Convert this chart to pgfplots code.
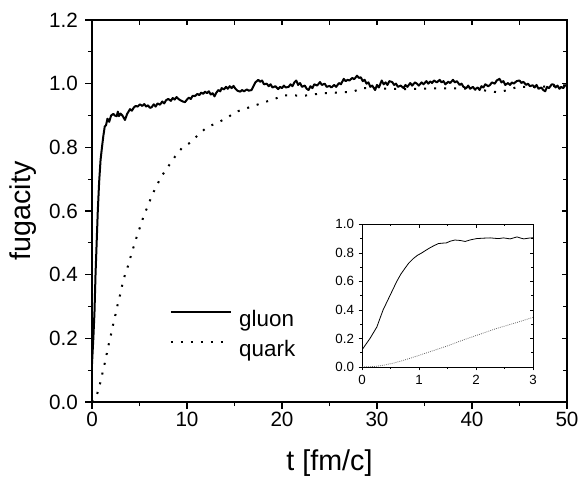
\documentclass[border=0pt]{standalone}
\usepackage{pgfplots}
\pgfplotsset{compat=1.18}
\usepackage{fontspec}
\setmainfont{Liberation Sans}

\pgfplotstableread{
t f
0.00 0.120
0.14 0.200
0.26 0.280
0.37 0.400
0.49 0.500
0.61 0.600
0.75 0.690
0.90 0.760
1.05 0.800
1.19 0.835
1.34 0.865
1.48 0.870
1.63 0.890
1.81 0.880
2.01 0.900
2.25 0.905
2.40 0.900
2.60 0.898
2.72 0.912
2.84 0.898
3.0 0.906
3.2 0.900
3.47 0.886
3.7 0.905
4.0 0.920
4.2 0.915
4.4 0.925
4.6 0.930
4.8 0.928
5.05 0.935
5.3 0.930
5.5 0.936
5.7 0.928
5.9 0.932
6.1 0.924
6.28 0.926
6.5 0.935
6.7 0.928
6.9 0.938
7.16 0.934
7.4 0.944
7.6 0.938
7.8 0.948
8.03 0.952
8.3 0.946
8.5 0.955
8.7 0.950
8.9 0.958
9.1 0.952
9.3 0.948
9.55 0.944
9.79 0.942
10.0 0.950
10.2 0.956
10.4 0.952
10.6 0.962
10.84 0.961
11.1 0.968
11.3 0.964
11.5 0.972
11.7 0.968
11.9 0.975
12.1 0.970
12.3 0.976
12.5 0.966
12.7 0.970
12.9 0.960
13.1 0.972
13.3 0.980
13.5 0.976
13.65 0.986
13.9 0.982
14.1 0.990
14.3 0.984
14.5 0.992
14.7 0.986
14.9 0.993
15.1 0.984
15.3 0.978
15.6 0.975
15.8 0.980
16.0 0.976
16.3 0.982
16.5 0.978
16.8 0.980
17.0 0.992
17.2 1.004
17.5 1.012
17.7 1.006
17.9 1.010
18.1 0.998
18.4 1.000
18.6 0.992
18.8 0.998
19.0 0.988
19.3 0.992
19.6 0.983
19.8 0.990
20.0 0.986
20.2 0.994
20.4 0.988
20.7 0.990
20.9 0.998
21.1 0.992
21.3 1.004
21.5 1.010
21.7 0.996
21.9 1.002
22.1 0.990
22.4 0.994
22.6 0.984
22.8 0.980
23.0 0.992
23.2 0.986
23.4 0.998
23.7 0.994
24.0 1.005
24.2 0.996
24.5 1.000
24.7 0.990
25.0 0.993
25.2 0.988
25.5 0.996
25.7 0.990
26.0 1.002
26.2 0.998
26.5 1.015
26.7 1.008
26.9 1.012
27.1 1.010
27.4 1.018
27.6 1.014
27.9 1.025
28.1 1.018
28.3 1.020
28.5 1.008
28.7 1.012
28.9 1.000
29.1 1.004
29.3 0.990
29.5 0.994
29.8 0.980
30.0 0.996
30.2 0.988
30.5 1.010
30.7 0.998
30.9 1.004
31.1 0.996
31.3 1.008
31.6 1.005
31.8 0.996
32.0 1.000
32.2 0.990
32.5 0.994
32.8 0.986
33.0 0.996
33.2 0.990
33.5 1.002
33.7 0.994
34.0 1.004
34.2 1.000
34.4 0.994
34.7 1.004
34.9 0.998
35.2 1.008
35.4 1.000
35.6 1.007
35.8 1.002
36.0 1.010
36.3 1.004
36.6 1.012
36.8 1.004
37.0 1.008
37.2 0.998
37.5 1.006
37.7 1.002
38.0 1.012
38.2 1.004
38.4 1.008
38.7 0.996
38.9 1.000
39.1 0.990
39.4 0.986
39.6 0.994
39.8 0.984
40.1 0.990
40.3 0.982
40.6 0.988
40.8 0.980
41.0 0.992
41.2 0.988
41.4 0.998
41.7 0.992
41.9 0.996
42.1 1.004
42.4 1.000
42.6 1.010
42.9 1.015
43.1 1.004
43.3 1.008
43.5 0.996
43.8 1.002
44.0 0.996
44.2 1.004
44.4 1.000
44.7 1.008
45.0 1.010
45.2 1.002
45.4 1.006
45.7 0.996
45.9 1.000
46.1 0.992
46.4 0.995
46.6 0.988
46.8 0.996
47.0 0.984
47.3 0.988
47.5 0.980
47.7 0.976
47.9 0.990
48.1 0.986
48.4 0.998
48.6 0.997
48.8 0.988
49.0 0.994
49.2 0.984
49.4 0.990
49.6 0.986
49.8 0.994
50.0 0.996
}\gluon

\pgfplotstableread{
t f
0.00 0.000
0.20 0.003
0.37 0.012
0.56 0.027
0.84 0.057
1.08 0.088
1.33 0.120
1.54 0.150
1.75 0.180
2.00 0.212
2.24 0.245
2.49 0.277
2.70 0.306
2.95 0.336
3.19 0.368
3.47 0.400
3.82 0.430
4.10 0.460
4.45 0.494
4.77 0.525
5.12 0.555
5.47 0.587
5.90 0.617
6.28 0.647
6.80 0.679
7.34 0.710
8.03 0.740
8.74 0.771
9.44 0.797
10.4 0.816
11.2 0.840
12.1 0.863
13.1 0.876
14.2 0.892
15.1 0.911
16.2 0.922
17.2 0.932
18.3 0.943
19.3 0.953
20.2 0.963
21.3 0.963
22.3 0.962
23.5 0.967
24.5 0.970
26.0 0.972
27.5 0.975
28.4 0.986
30.0 0.985
33.0 0.983
36.0 0.985
39.0 0.985
41.0 0.980
42.7 0.973
43.8 0.980
44.8 0.990
47.0 0.990
50.0 0.995
}\quark

\pgfplotstableread{
t f
0.00 0.120
0.07 0.160
0.14 0.200
0.20 0.240
0.26 0.280
0.31 0.335
0.37 0.400
0.43 0.450
0.49 0.500
0.55 0.550
0.61 0.600
0.68 0.650
0.75 0.690
0.82 0.728
0.90 0.760
0.97 0.782
1.05 0.800
1.12 0.818
1.19 0.835
1.27 0.852
1.34 0.865
1.41 0.868
1.48 0.870
1.55 0.882
1.63 0.890
1.72 0.887
1.81 0.880
1.91 0.892
2.01 0.900
2.13 0.903
2.25 0.905
2.33 0.902
2.40 0.900
2.48 0.905
2.60 0.898
2.66 0.905
2.72 0.912
2.78 0.904
2.84 0.898
2.92 0.903
3.00 0.906
}\gluoninset

\pgfplotstableread{
t f
0.00 0.000
0.20 0.003
0.37 0.012
0.55 0.027
0.73 0.047
0.95 0.075
1.19 0.107
1.50 0.148
1.78 0.190
2.07 0.230
2.36 0.270
2.70 0.310
3.00 0.348
}\quarkinset

\begin{document}
\begin{tikzpicture}
% overlay for top/right inward ticks (main)
\begin{axis}[
  at={(0,0)}, anchor=south west,
  width=356.25pt, height=286.5pt, scale only axis,
  xmin=0, xmax=50, ymin=0, ymax=1.2,
  xtick={0,5,...,50}, ytick={0,0.2,0.4,0.6,0.8,1.0,1.2}, minor y tick num=1,
  xtick pos=right, ytick pos=right, tick align=inside,
  major tick length=4pt, minor tick length=3pt,
  xticklabels={}, yticklabels={},
  axis line style={line width=1pt},
  every tick/.style={line width=0.9pt, black},
]
\end{axis}
\begin{axis}[
  at={(0,0)}, anchor=south west,
  width=356.25pt, height=286.5pt, scale only axis,
  xmin=0, xmax=50, ymin=0, ymax=1.2,
  xtick={0,10,...,50}, ytick={0,0.2,0.4,0.6,0.8,1.0,1.2},
  minor x tick num=1, minor y tick num=1,
  xtick pos=left, ytick pos=left, tick align=outside,
  major tick length=5pt, minor tick length=3pt,
  axis line style={line width=1pt},
  every tick/.style={line width=0.9pt, black},
  /pgf/number format/assume math mode=true,
  tick label style={font=\fontsize{15.5}{17}\selectfont},
  xticklabel style={yshift=1pt},
  yticklabel style={xshift=-2pt, /pgf/number format/.cd, fixed, fixed zerofill, precision=1, /tikz/.cd},
  xlabel={t [fm/c]}, ylabel={fugacity},
  label style={font=\fontsize{21.5}{25}\selectfont},
  xlabel style={at={(axis description cs:0.5,0)}, anchor=base, yshift=-51pt},
  ylabel style={at={(axis description cs:-0.145,0.5)}, anchor=center},
  legend style={at={(axis description cs:0.164,0.174)}, anchor=west,
    draw=none, fill=none, inner sep=0pt, outer sep=0pt,
    font=\fontsize{16.8}{19}\selectfont, row sep=7pt,
    nodes={inner sep=0pt, text height=12pt, text depth=3.5pt},
    /tikz/every odd column/.append style={column sep=5.5pt}},
  legend cell align=left,
  legend image code/.code={\draw[#1] (0pt,6.5pt) -- (45pt,6.5pt);},
]
\addplot[black, line width=1.5pt, line join=round] table[x=t, y=f] {\gluon};
\addlegendentry{gluon}
\addplot[black, line width=1.5pt, dash pattern=on 1.5pt off 6pt] table[x=t, y=f] {\quark};
\addlegendentry{quark}
\end{axis}
% inset overlay for top/right inward ticks
\begin{axis}[
  at={(202.5pt,26.25pt)}, anchor=south west,
  width=128.25pt, height=107pt, scale only axis,
  xmin=0, xmax=3, ymin=0, ymax=1,
  xtick={0,1,2,3}, minor x tick num=1,
  ytick={0,0.2,0.4,0.6,0.8,1.0}, minor y tick num=1,
  xtick pos=right, ytick pos=right, tick align=inside,
  major tick length=2.5pt, minor tick length=1.5pt,
  xticklabels={}, yticklabels={},
  axis line style={line width=0.6pt},
  every tick/.style={line width=0.5pt, black},
]
\end{axis}
\begin{axis}[
  at={(202.5pt,26.25pt)}, anchor=south west,
  width=128.25pt, height=107pt, scale only axis,
  xmin=0, xmax=3, ymin=0, ymax=1,
  xtick={0,1,2,3}, minor x tick num=1,
  ytick={0,0.2,0.4,0.6,0.8,1.0}, minor y tick num=1,
  xtick pos=left, ytick pos=left, tick align=outside,
  major tick length=2.5pt, minor tick length=1.5pt,
  axis line style={line width=0.6pt},
  every tick/.style={line width=0.5pt, black},
  /pgf/number format/assume math mode=true,
  tick label style={font=\fontsize{10}{12}\selectfont},
  yticklabel style={/pgf/number format/.cd, fixed, fixed zerofill, precision=1, /tikz/.cd},
]
\addplot[black, line width=0.6pt, line join=round] table[x=t, y=f] {\gluoninset};
\addplot[black!60, line width=0.6pt, dash pattern=on 0.6pt off 0.9pt] table[x=t, y=f] {\quarkinset};
\end{axis}
\path[use as bounding box] (-69pt,-57pt) rectangle (368.25pt,301.5pt);
\end{tikzpicture}
\end{document}
